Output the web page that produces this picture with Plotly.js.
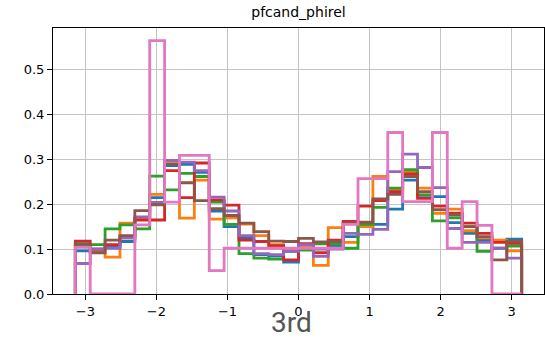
<!DOCTYPE html>
<html>
<head>
<meta charset="utf-8">
<script src="https://cdn.plot.ly/plotly-3.0.1.min.js"></script>
<style>html,body{margin:0;padding:0;background:#fff;}#chart{width:545px;height:339px;}</style>
</head>
<body>
<div id="chart"></div>
<script>
// 30 bins over [-pi, pi]
var binEdges = [-3.1416,-2.9322,-2.7227,-2.5133,-2.3038,-2.0944,-1.8850,-1.6755,-1.4661,-1.2566,
  -1.0472,-0.8378,-0.6283,-0.4189,-0.2094,0.0000,0.2094,0.4189,0.6283,0.8378,
  1.0472,1.2566,1.4661,1.6755,1.8850,2.0944,2.3038,2.5133,2.7227,2.9322,3.1416];

var seriesBlue   = [0.096,0.100,0.105,0.117,0.168,0.215,0.286,0.289,0.271,0.185,0.150,0.125,0.088,0.085,0.071,0.105,0.100,0.108,0.128,0.150,0.155,0.189,0.254,0.220,0.217,0.159,0.135,0.120,0.117,0.122];
var seriesOrange = [0.110,0.095,0.082,0.158,0.170,0.222,0.296,0.169,0.254,0.167,0.170,0.156,0.130,0.110,0.100,0.105,0.064,0.148,0.115,0.150,0.262,0.232,0.272,0.236,0.180,0.189,0.141,0.125,0.120,0.096];
var seriesGreen  = [0.110,0.110,0.145,0.154,0.145,0.263,0.232,0.269,0.262,0.205,0.155,0.090,0.080,0.078,0.095,0.098,0.112,0.112,0.102,0.155,0.193,0.236,0.277,0.221,0.163,0.170,0.150,0.095,0.102,0.107];
var seriesRed    = [0.118,0.100,0.110,0.125,0.165,0.165,0.275,0.215,0.292,0.210,0.198,0.120,0.117,0.108,0.076,0.112,0.092,0.120,0.162,0.196,0.208,0.228,0.268,0.213,0.196,0.180,0.158,0.135,0.115,0.113];
var seriesPurple = [0.068,0.100,0.102,0.125,0.172,0.204,0.298,0.294,0.275,0.216,0.185,0.130,0.090,0.088,0.095,0.110,0.084,0.100,0.135,0.133,0.144,0.273,0.312,0.282,0.237,0.146,0.115,0.115,0.102,0.080];
var seriesBrown  = [0.112,0.092,0.120,0.130,0.186,0.199,0.290,0.248,0.208,0.190,0.175,0.158,0.139,0.118,0.117,0.124,0.116,0.117,0.158,0.160,0.212,0.222,0.262,0.228,0.188,0.177,0.150,0.128,0.076,0.118];
var seriesPink   = [0.104,0.000,0.000,0.000,0.154,0.565,0.205,0.309,0.309,0.052,0.102,0.102,0.102,0.102,0.102,0.102,0.102,0.102,0.155,0.257,0.257,0.360,0.206,0.206,0.360,0.102,0.206,0.153,0.000,0.000];

var xTickVals = [-3,-2,-1,0,1,2,3];
var xTickText = ["\u22123","\u22122","\u22121","0","1","2","3"];
var yTickVals = [0,0.1,0.2,0.3,0.4,0.5];
var yTickText = ["0.0","0.1","0.2","0.3","0.4","0.5"];

var allSeries = [seriesBlue, seriesOrange, seriesGreen, seriesRed, seriesPurple, seriesBrown, seriesPink];
var colors = ["#1f77b4","#ff7f0e","#2ca02c","#d62728","#9467bd","#8c564b","#e377c2"];

function stepTrace(vals, color) {
  var x = [binEdges[0]];
  var y = [0];
  for (var i = 0; i < vals.length; i++) { x.push(binEdges[i]); y.push(vals[i]); }
  x.push(binEdges[binEdges.length - 1]); y.push(0);
  return {x: x, y: y, type: 'scatter', mode: 'lines', line: {shape: 'hv', color: color, width: 2.8}, hoverinfo: 'skip', showlegend: false};
}

var traces = allSeries.map(function (s, i) { return stepTrace(s, colors[i]); });

var axisCommon = {
  showline: true, linecolor: '#000', linewidth: 1, mirror: true,
  showgrid: true, gridcolor: '#c4c4c4', gridwidth: 1,
  zeroline: false, ticks: 'outside', ticklen: 5, tickwidth: 1, tickcolor: '#000',
  tickfont: {family: 'DejaVu Sans', size: 13, color: '#000'}
};

var layout = {
  width: 545, height: 339,
  margin: {l: 53, r: 1, t: 28, b: 45},
  paper_bgcolor: '#fff', plot_bgcolor: '#fff',
  title: {text: 'pfcand_phirel', font: {family: 'DejaVu Sans', size: 14, color: '#000'}, x: 0.5, xanchor: 'center', xref: 'paper', y: 0.965, yanchor: 'middle', yref: 'container'},
  xaxis: Object.assign({}, axisCommon, {range: [-3.456, 3.456], tickvals: xTickVals, ticktext: xTickText}),
  yaxis: Object.assign({}, axisCommon, {range: [0, 0.593], tickvals: yTickVals, ticktext: yTickText}),
  annotations: [{text: '3rd', xref: 'paper', yref: 'paper', x: 0.4865, y: -0.108, xanchor: 'center', yanchor: 'middle', showarrow: false, font: {family: 'Roboto', size: 28, color: '#555'}}]
};

Plotly.newPlot('chart', traces, layout, {staticPlot: true, displayModeBar: false});
</script>
</body>
</html>
